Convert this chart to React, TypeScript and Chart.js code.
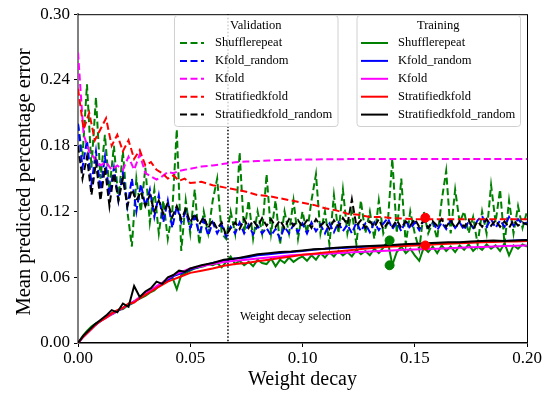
import React, { useEffect, useRef } from "react";
import { Chart, registerables } from "chart.js";
Chart.register(...registerables);

const SERIES_NAMES = ["Shufflerepeat", "Kfold_random", "Kfold", "Stratifiedkfold", "Stratifiedkfold_random"];
const COLORS = ["#008000", "#0000ff", "#ff00ff", "#ff0000", "#000000"];
const X_TICKS = [0, 0.05, 0.1, 0.15, 0.2];
const Y_TICKS = [0, 0.06, 0.12, 0.18, 0.24, 0.3];
const SELECTION_X = 0.0668;
const SELECTION_LABEL = "Weight decay selection";
const Y_TITLE = "Mean predicted percentage error";
const X_TITLE = "Weight decay";

// fine sampling grid (step 0.002) for the noisy curves
const fineX: number[] = Array.from({ length: 101 }, (_, i) => +(i * 0.002).toFixed(3));
// coarse grid for the smoother curves
const coarseX: number[] = [
  0, 0.0025, 0.005, 0.0075, 0.01, 0.0125, 0.015, 0.0175, 0.02, 0.0225, 0.025, 0.0275, 0.03, 0.0325, 0.035,
  0.0375, 0.04, 0.0425, 0.045, 0.0475, 0.05, 0.055, 0.06, 0.065, 0.07, 0.075, 0.08, 0.085, 0.09, 0.095, 0.1,
  0.105, 0.11, 0.115, 0.12, 0.125, 0.13, 0.135, 0.14, 0.145, 0.15, 0.155, 0.16, 0.165, 0.17, 0.175, 0.18,
  0.185, 0.19, 0.195, 0.2,
];

// Validation (dashed)
const valShufflerepeat = [
  0.2, 0.17, 0.236, 0.16, 0.224, 0.15, 0.19, 0.14, 0.18, 0.13, 0.175, 0.12, 0.088, 0.15, 0.12, 0.16, 0.11, 0.14,
  0.1, 0.13, 0.095, 0.12, 0.195, 0.084, 0.13, 0.1, 0.14, 0.09, 0.12, 0.1, 0.13, 0.15, 0.1, 0.095, 0.12, 0.1,
  0.174, 0.1, 0.13, 0.095, 0.12, 0.1, 0.154, 0.1, 0.13, 0.09, 0.12, 0.1, 0.13, 0.095, 0.12, 0.1, 0.13, 0.154,
  0.1, 0.12, 0.09, 0.135, 0.1, 0.14, 0.1, 0.12, 0.09, 0.13, 0.1, 0.12, 0.095, 0.13, 0.1, 0.11, 0.168, 0.1,
  0.15, 0.09, 0.12, 0.1, 0.085, 0.12, 0.1, 0.11, 0.095, 0.13, 0.157, 0.1, 0.14, 0.11, 0.12, 0.1, 0.115, 0.09,
  0.12, 0.1, 0.144, 0.11, 0.14, 0.09, 0.13, 0.1, 0.125, 0.105, 0.12,
];
const valKfoldRandom = [
  0.2, 0.16, 0.185, 0.145, 0.175, 0.14, 0.17, 0.135, 0.16, 0.13, 0.155, 0.125, 0.15, 0.12, 0.145, 0.125, 0.14,
  0.115, 0.135, 0.11, 0.13, 0.105, 0.125, 0.11, 0.12, 0.105, 0.115, 0.1, 0.112, 0.098, 0.11, 0.1, 0.108, 0.097,
  0.106, 0.1, 0.11, 0.1, 0.108, 0.099, 0.107, 0.1, 0.105, 0.098, 0.104, 0.095, 0.106, 0.1, 0.108, 0.101, 0.109,
  0.1, 0.11, 0.102, 0.108, 0.1, 0.109, 0.101, 0.11, 0.102, 0.108, 0.1, 0.11, 0.102, 0.109, 0.101, 0.11, 0.103,
  0.109, 0.114, 0.104, 0.11, 0.102, 0.112, 0.104, 0.11, 0.103, 0.112, 0.105, 0.111, 0.103, 0.11, 0.104, 0.112,
  0.105, 0.11, 0.103, 0.111, 0.105, 0.112, 0.116, 0.106, 0.113, 0.105, 0.112, 0.106, 0.115, 0.107, 0.113, 0.108,
  0.11,
];
const valKfold = [
  0.265, 0.19, 0.175, 0.168, 0.162, 0.165, 0.158, 0.162, 0.158, 0.17, 0.158, 0.172, 0.155, 0.152, 0.149, 0.152,
  0.156, 0.155, 0.157, 0.158, 0.159, 0.161, 0.162, 0.1635, 0.165, 0.1655, 0.166, 0.1665, 0.167, 0.1672, 0.1675,
  0.1675, 0.1677, 0.1677, 0.1678, 0.1678, 0.1678, 0.1678, 0.1678, 0.1678, 0.1678, 0.1678, 0.1678, 0.1678,
  0.1678, 0.1678, 0.1678, 0.1678, 0.1678, 0.1678, 0.1678,
];
const valStratifiedkfold = [
  0.232, 0.195, 0.21, 0.185, 0.195, 0.205, 0.18, 0.19, 0.175, 0.185, 0.168, 0.176, 0.162, 0.165, 0.158, 0.155,
  0.15, 0.153, 0.148, 0.15, 0.146, 0.147, 0.144, 0.142, 0.14, 0.138, 0.135, 0.134, 0.132, 0.13, 0.128, 0.126,
  0.123, 0.121, 0.118, 0.117, 0.115, 0.115, 0.114, 0.1135, 0.113, 0.113, 0.113, 0.113, 0.113, 0.113, 0.113,
  0.113, 0.113, 0.113, 0.113,
];
const valStratifiedkfoldRandom = [
  0.18, 0.15, 0.17, 0.135, 0.165, 0.13, 0.16, 0.125, 0.155, 0.13, 0.15, 0.125, 0.14, 0.13, 0.138, 0.125, 0.135,
  0.12, 0.13, 0.118, 0.128, 0.115, 0.125, 0.113, 0.122, 0.11, 0.118, 0.108, 0.115, 0.105, 0.112, 0.104, 0.11,
  0.098, 0.105, 0.11, 0.104, 0.113, 0.105, 0.112, 0.106, 0.114, 0.107, 0.113, 0.106, 0.112, 0.105, 0.113, 0.107,
  0.112, 0.106, 0.112, 0.105, 0.113, 0.107, 0.111, 0.104, 0.112, 0.106, 0.114, 0.108, 0.131, 0.107, 0.112, 0.105,
  0.111, 0.106, 0.113, 0.104, 0.11, 0.106, 0.112, 0.105, 0.111, 0.107, 0.113, 0.106, 0.112, 0.105, 0.111, 0.107,
  0.113, 0.106, 0.112, 0.105, 0.111, 0.106, 0.112, 0.104, 0.111, 0.106, 0.113, 0.107, 0.112, 0.106, 0.111, 0.105,
  0.112, 0.107, 0.11, 0.108,
];

// Training (solid)
const trainShufflerepeat = [
  0, 0.006, 0.011, 0.015, 0.018, 0.02, 0.023, 0.025, 0.027, 0.03, 0.031, 0.034, 0.036, 0.039, 0.041, 0.043, 0.046,
  0.048, 0.052, 0.055, 0.058, 0.06, 0.049, 0.062, 0.064, 0.066, 0.068, 0.069, 0.07, 0.072, 0.071, 0.073, 0.069,
  0.074, 0.079, 0.072, 0.075, 0.071, 0.074, 0.07, 0.076, 0.073, 0.072, 0.077, 0.07, 0.076, 0.073, 0.078, 0.074,
  0.077, 0.079, 0.075, 0.08, 0.076, 0.082, 0.078, 0.083, 0.079, 0.084, 0.08, 0.083, 0.079, 0.085, 0.081, 0.084,
  0.08, 0.086, 0.082, 0.087, 0.093, 0.071, 0.083, 0.088, 0.082, 0.086, 0.08, 0.075, 0.087, 0.083, 0.088, 0.082,
  0.089, 0.084, 0.088, 0.083, 0.089, 0.085, 0.09, 0.084, 0.088, 0.085, 0.09, 0.086, 0.089, 0.084, 0.091, 0.08,
  0.089, 0.086, 0.09, 0.088,
];
const trainKfoldRandom = [
  0, 0.006, 0.011, 0.016, 0.02, 0.024, 0.027, 0.029, 0.032, 0.035, 0.038, 0.041, 0.045, 0.048, 0.051, 0.054,
  0.057, 0.061, 0.063, 0.065, 0.067, 0.07, 0.073, 0.075, 0.077, 0.078, 0.08, 0.081, 0.082, 0.083, 0.084, 0.085,
  0.086, 0.0865, 0.087, 0.0875, 0.088, 0.0885, 0.089, 0.0895, 0.09, 0.0905, 0.091, 0.0912, 0.0915, 0.092,
  0.0925, 0.093, 0.093, 0.0935, 0.094,
];
const trainKfold = [
  0, 0.006, 0.011, 0.016, 0.02, 0.023, 0.026, 0.029, 0.032, 0.035, 0.038, 0.042, 0.045, 0.048, 0.052, 0.055,
  0.059, 0.062, 0.064, 0.066, 0.068, 0.07, 0.072, 0.074, 0.075, 0.076, 0.077, 0.078, 0.079, 0.08, 0.0805, 0.081,
  0.0815, 0.082, 0.0825, 0.083, 0.0835, 0.084, 0.0845, 0.085, 0.0853, 0.0857, 0.086, 0.0865, 0.087, 0.0873,
  0.0877, 0.088, 0.0884, 0.0887, 0.089,
];
const trainStratifiedkfold = [
  0, 0.006, 0.011, 0.016, 0.02, 0.023, 0.027, 0.03, 0.032, 0.036, 0.037, 0.041, 0.044, 0.047, 0.05, 0.053,
  0.056, 0.058, 0.06, 0.062, 0.064, 0.066, 0.068, 0.0705, 0.072, 0.073, 0.0745, 0.076, 0.0775, 0.079, 0.0805,
  0.0815, 0.0825, 0.0835, 0.0845, 0.0855, 0.0865, 0.0873, 0.088, 0.0885, 0.089, 0.0895, 0.09, 0.0905, 0.091,
  0.0915, 0.092, 0.0922, 0.0925, 0.0927, 0.093,
];
const trainStratifiedkfoldRandom = [
  0, 0.007, 0.012, 0.017, 0.021, 0.025, 0.03, 0.028, 0.036, 0.033, 0.052, 0.042, 0.047, 0.05, 0.056, 0.054,
  0.06, 0.062, 0.066, 0.065, 0.068, 0.071, 0.073, 0.076, 0.077, 0.079, 0.081, 0.082, 0.083, 0.0835, 0.0845,
  0.0855, 0.086, 0.087, 0.0875, 0.088, 0.0885, 0.089, 0.0895, 0.09, 0.0905, 0.091, 0.0915, 0.092, 0.092,
  0.0925, 0.093, 0.0935, 0.093, 0.0935, 0.094,
];

// highlighted points
const markerGreenX = [0.1388, 0.1388];
const markerGreenY = [0.0936, 0.0709];
const markerRedX = [0.1547, 0.1547];
const markerRedY = [0.1143, 0.089];

const FONT = '"Liberation Serif", "Times New Roman", serif';

const pts = (xs: number[], ys: number[]) => ys.map((y, i) => ({ x: xs[i], y }));

const overlayPlugin = {
  id: "overlay",
  afterDatasetsDraw(chart: any) {
    const { ctx, chartArea, scales } = chart;
    ctx.save();
    // top & right spines
    ctx.strokeStyle = "#000";
    ctx.lineWidth = 1;
    ctx.beginPath();
    ctx.moveTo(chartArea.left, chartArea.top + 0.5);
    ctx.lineTo(chartArea.right, chartArea.top + 0.5);
    ctx.moveTo(chartArea.right + 0.5, chartArea.top);
    ctx.lineTo(chartArea.right + 0.5, chartArea.bottom);
    ctx.stroke();
    // selection line
    const sx = scales.x.getPixelForValue(SELECTION_X);
    ctx.setLineDash([1.5, 2]);
    ctx.lineWidth = 1.5;
    ctx.beginPath();
    ctx.moveTo(sx, chartArea.top);
    ctx.lineTo(sx, chartArea.bottom);
    ctx.stroke();
    ctx.setLineDash([]);
    ctx.fillStyle = "#000";
    ctx.font = `12px ${FONT}`;
    ctx.textBaseline = "alphabetic";
    ctx.textAlign = "left";
    ctx.fillText(SELECTION_LABEL, sx + 12, 320);

    // y-axis title
    ctx.save();
    ctx.font = `20.5px ${FONT}`;
    ctx.translate(30, 182);
    ctx.rotate(-Math.PI / 2);
    ctx.textAlign = "center";
    ctx.textBaseline = "alphabetic";
    ctx.fillText(Y_TITLE, 0, 0);
    ctx.restore();

    // legends
    const boxes = [
      { title: "Validation", x: 174, y: 15, w: 163.5, h: 111, l0: 180, l1: 204, tx: 215, dash: [7, 3.5] },
      { title: "Training", x: 356.5, y: 15, w: 163.5, h: 111, l0: 361, l1: 388, tx: 398, dash: [] as number[] },
    ];
    for (const b of boxes) {
      ctx.beginPath();
      ctx.roundRect(b.x + 0.5, b.y + 0.5, b.w, b.h, 3);
      ctx.fillStyle = "rgba(255,255,255,0.8)";
      ctx.fill();
      ctx.strokeStyle = "#d0d0d0";
      ctx.lineWidth = 1;
      ctx.stroke();
      ctx.fillStyle = "#000";
      ctx.font = `12.5px ${FONT}`;
      ctx.textAlign = "center";
      ctx.textBaseline = "middle";
      ctx.fillText(b.title, b.x + b.w / 2, 26);
      SERIES_NAMES.forEach((name, i) => {
        const y = 43 + i * 17.9;
        ctx.strokeStyle = COLORS[i];
        ctx.lineWidth = 2;
        ctx.setLineDash(b.dash);
        ctx.beginPath();
        ctx.moveTo(b.l0, y);
        ctx.lineTo(b.l1, y);
        ctx.stroke();
        ctx.setLineDash([]);
        ctx.fillStyle = "#000";
        ctx.textAlign = "left";
        ctx.fillText(name, b.tx, y);
      });
    }
    ctx.restore();
  },
};

export default function App() {
  const ref = useRef<HTMLCanvasElement>(null);
  useEffect(() => {
    if (!ref.current) return;
    const valSeries = [
      pts(fineX, valShufflerepeat),
      pts(fineX, valKfoldRandom),
      pts(coarseX, valKfold),
      pts(coarseX, valStratifiedkfold),
      pts(fineX, valStratifiedkfoldRandom),
    ];
    const trainSeries = [
      pts(fineX, trainShufflerepeat),
      pts(coarseX, trainKfoldRandom),
      pts(coarseX, trainKfold),
      pts(coarseX, trainStratifiedkfold),
      pts(coarseX, trainStratifiedkfoldRandom),
    ];
    const drawOrder: any[] = [];
    valSeries.forEach((d, i) =>
      drawOrder.push({
        type: "line",
        label: "Validation " + SERIES_NAMES[i],
        data: d,
        borderColor: COLORS[i],
        borderWidth: 2,
        borderDash: [7, 3.5],
        pointRadius: 0,
        fill: false,
        tension: 0,
      })
    );
    trainSeries.forEach((d, i) =>
      drawOrder.push({
        type: "line",
        label: "Training " + SERIES_NAMES[i],
        data: d,
        borderColor: COLORS[i],
        borderWidth: 2,
        pointRadius: 0,
        fill: false,
        tension: 0,
      })
    );
    drawOrder.push({
      type: "scatter",
      label: "sel green",
      data: pts(markerGreenX, markerGreenY),
      backgroundColor: COLORS[0],
      borderColor: COLORS[0],
      pointRadius: 4.5,
    });
    drawOrder.push({
      type: "scatter",
      label: "sel red",
      data: pts(markerRedX, markerRedY),
      backgroundColor: COLORS[3],
      borderColor: COLORS[3],
      pointRadius: 4.5,
    });
    // Chart.js draws dataset 0 on top, so reverse
    const datasets = drawOrder.slice().reverse();

    const chart = new Chart(ref.current, {
      type: "line",
      data: { datasets },
      options: {
        animation: false,
        responsive: false,
        devicePixelRatio: 1,
        layout: { padding: { top: 9, right: 29, left: 0, bottom: 0 } },
        plugins: { legend: { display: false }, tooltip: { enabled: false } },
        scales: {
          x: {
            type: "linear",
            min: 0,
            max: 0.2,
            afterBuildTicks: (s: any) => {
              s.ticks = X_TICKS.map((v) => ({ value: v }));
            },
            afterFit: (s: any) => {
              s.height = 58;
            },
            ticks: {
              color: "#000",
              font: { family: FONT, size: 17 },
              padding: 1,
              maxRotation: 0,
              callback: (v: any) => Number(v).toFixed(2),
            },
            grid: { drawOnChartArea: false, drawTicks: true, tickLength: 4, color: "#000" },
            border: { display: true, color: "#000", width: 1.5 },
            title: {
              display: true,
              text: X_TITLE,
              color: "#000",
              font: { family: FONT, size: 20 },
              padding: { top: 0, bottom: 9.5 },
            },
          },
          y: {
            type: "linear",
            min: 0,
            max: 0.3,
            afterBuildTicks: (s: any) => {
              s.ticks = Y_TICKS.map((v) => ({ value: v }));
            },
            afterFit: (s: any) => {
              s.width = 78;
            },
            ticks: {
              color: "#000",
              font: { family: FONT, size: 17 },
              padding: 4,
              callback: (v: any) => Number(v).toFixed(2),
            },
            grid: { drawOnChartArea: false, drawTicks: true, tickLength: 4, color: "#000" },
            border: { display: true, color: "#808080", width: 2 },
            title: { display: false },
          },
        },
      },
      plugins: [overlayPlugin],
    } as any);
    return () => chart.destroy();
  }, []);
  return (
    <div style={{ position: "fixed", left: 0, top: 0, width: 556, height: 401, background: "#fff" }}>
      <canvas ref={ref} width={556} height={401} style={{ width: 556, height: 401 }} />
    </div>
  );
}
